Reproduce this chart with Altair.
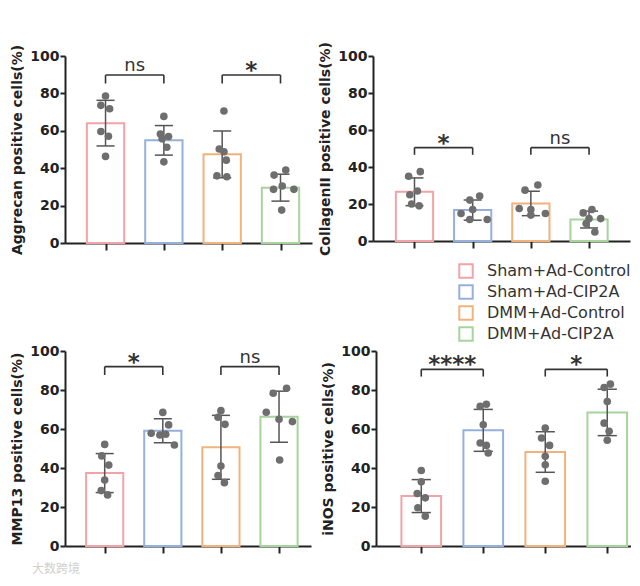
import altair as alt
import pandas as pd

# ---------------- data ----------------
groups = ["Sham+Ad-Control", "Sham+Ad-CIP2A", "DMM+Ad-Control", "DMM+Ad-CIP2A"]
colors = ["#F2A3A8", "#95B0DD", "#F2B27C", "#A6D49C"]
positions = [1, 2, 3, 4]

# Aggrecan
agg_mean = [64.1, 54.9, 47.4, 29.6]
agg_sd = [12.2, 7.9, 12.5, 7.2]
agg_dots = [[78.6, 73.6, 71.8, 59.6, 57.1, 46.3],
            [67.7, 58.3, 56.9, 55.7, 51.2, 43.4],
            [70.6, 50.3, 48.8, 44.3, 35.9, 35.4],
            [39.0, 36.3, 30.5, 28.7, 28.7, 17.6]]
agg_jit = [[0.0, -0.08, 0.07, -0.08, 0.05, 0.0],
           [0.0, -0.06, 0.08, -0.03, 0.05, 0.0],
           [0.03, -0.05, 0.03, 0.07, -0.09, 0.08],
           [0.09, -0.11, 0.03, 0.23, -0.12, 0.02]]
agg_sig = ["ns", "*"]
agg_bracket = [89.8, 85.3]

# CollagenII
col_mean = [26.6, 16.7, 20.3, 11.6]
col_sd = [7.5, 5.45, 6.6, 4.55]
col_dots = [[37.5, 35.0, 27.0, 25.0, 20.0, 19.0],
            [24.3, 22.1, 17.0, 14.9, 11.6, 11.6],
            [30.3, 27.5, 17.6, 17.0, 14.9, 14.0],
            [17.0, 15.2, 12.1, 12.1, 9.4, 4.9]]
col_jit = [[0.1, -0.1, 0.05, -0.08, -0.05, 0.08],
           [0.12, -0.05, 0.0, -0.2, 0.25, -0.05],
           [0.12, -0.1, -0.2, 0.0, 0.25, 0.0],
           [0.05, -0.1, 0.2, 0.0, -0.05, 0.1]]
col_sig = ["*", "ns"]
col_bracket = [50.5, 46.6]

# MMP13
mmp_mean = [37.4, 59.1, 50.6, 66.3]
mmp_sd = [10.0, 6.15, 16.4, 13.1]
mmp_dots = [[52.1, 46.2, 41.5, 33.8, 28.4, 26.2],
            [68.5, 62.1, 57.8, 57.3, 56.9, 51.8],
            [69.4, 66.0, 62.4, 41.0, 36.1, 32.5],
            [80.9, 78.3, 68.6, 65.0, 63.8, 44.1]]
mmp_jit = [[0.0, -0.05, 0.07, 0.0, -0.06, 0.05],
           [0.0, 0.1, -0.2, 0.05, -0.05, 0.2],
           [0.0, -0.05, 0.07, 0.0, -0.05, 0.06],
           [0.13, -0.1, -0.22, 0.0, 0.23, 0.01]]
mmp_sig = ["*", "ns"]
mmp_bracket = [92.0, 87.7]

# iNOS
inos_mean = [25.6, 59.3, 48.2, 68.5]
inos_sd = [8.45, 10.75, 10.4, 11.9]
inos_dots = [[38.7, 32.9, 26.9, 24.7, 19.6, 15.3],
             [72.7, 71.6, 62.2, 52.8, 51.6, 47.7],
             [60.5, 55.4, 51.6, 46.0, 41.7, 33.2],
             [83.0, 81.3, 74.1, 63.0, 58.8, 54.2]]
inos_jit = [[0.0, 0.0, -0.065, 0.065, -0.055, 0.065],
            [0.05, -0.05, 0.0, -0.05, 0.05, 0.08],
            [0.0, -0.06, 0.07, 0.0, 0.0, 0.0],
            [0.05, -0.05, 0.0, -0.05, 0.03, 0.0]]
inos_sig = ["****", "*"]
inos_bracket = [90.6, 86.9]

FONT = "DejaVu Sans"
INK = "#222222"


def make_panel(title, means, sds, dots, jit, sig, bracket, dom, w, h, watermark=False):
    xs = alt.Scale(domain=dom, nice=False, zero=False)
    ys = alt.Scale(domain=[0, 100], nice=False)
    xaxis = alt.Axis(values=positions, labels=False, tickSize=7, tickWidth=2,
                     tickColor=INK, domainWidth=2, domainColor=INK, grid=False, title=None)
    yaxis = alt.Axis(values=[0, 20, 40, 60, 80, 100], labelFont=FONT, labelFontWeight="bold",
                     labelFontSize=14, labelColor=INK, tickSize=5, tickWidth=2, tickColor=INK,
                     domainWidth=2, domainColor=INK, grid=False, title=title,
                     titleFont=FONT, titleFontSize=14, titleFontWeight="bold", titleColor=INK,
                     labelPadding=1, titlePadding=5)

    def X(f):
        return alt.X(f, scale=xs, axis=xaxis, title=None)

    def Y(f):
        return alt.Y(f, scale=ys, axis=yaxis, title=title)

    bdf = pd.DataFrame({"group": groups, "pos": positions, "mean": means, "sd": sds})
    rows = []
    for g, p, vals, js in zip(groups, positions, dots, jit):
        for v, j in zip(vals, js):
            rows.append({"group": g, "px": p + j, "val": v})
    ddf = pd.DataFrame(rows)

    legend = alt.Legend(title=None, orient="none", legendX=393, legendY=207,
                        symbolType="square", symbolSize=180, symbolStrokeWidth=2,
                        symbolFillColor="white", labelFont=FONT, labelFontSize=16,
                        labelColor="#333333", rowPadding=-1, labelOffset=13)
    stroke = alt.Stroke("group:N", scale=alt.Scale(domain=groups, range=colors),
                        legend=legend, sort=groups)

    bars = alt.Chart(bdf).transform_calculate(
        bl="datum.pos - 0.32", br="datum.pos + 0.32"
    ).mark_bar(fill="white", strokeWidth=2).encode(
        x=X("bl:Q"), x2="br:Q", y=Y("mean:Q"), y2=alt.datum(0), stroke=stroke)

    ebase = alt.Chart(bdf).transform_calculate(
        lo="datum.mean - datum.sd", hi="datum.mean + datum.sd",
        cl="datum.pos - 0.155", cr="datum.pos + 0.155")
    err = ebase.mark_rule(color="#555555", strokeWidth=1.5).encode(
        x=X("pos:Q"), y=Y("lo:Q"), y2="hi:Q")
    cap_hi = ebase.mark_rule(color="#555555", strokeWidth=1.5).encode(
        x=X("cl:Q"), x2="cr:Q", y=Y("hi:Q"))
    cap_lo = ebase.mark_rule(color="#555555", strokeWidth=1.5).encode(
        x=X("cl:Q"), x2="cr:Q", y=Y("lo:Q"))

    pts = alt.Chart(ddf).mark_circle(color="#6E6E6E", size=58, opacity=1).encode(
        x=X("px:Q"), y=Y("val:Q"))

    sdf = pd.DataFrame({"x1": [1, 3], "x2": [2, 4], "xm": [1.5, 3.5],
                        "y": [bracket[0]] * 2, "yl": [bracket[1]] * 2, "label": sig})
    br_h = alt.Chart(sdf).mark_rule(color="#333333", strokeWidth=1.6).encode(
        x=X("x1:Q"), x2="x2:Q", y=Y("y:Q"))
    br_l = alt.Chart(sdf).mark_rule(color="#333333", strokeWidth=1.6).encode(
        x=X("x1:Q"), y=Y("yl:Q"), y2="y:Q")
    br_r = alt.Chart(sdf).mark_rule(color="#333333", strokeWidth=1.6).encode(
        x=X("x2:Q"), y=Y("yl:Q"), y2="y:Q")

    ns_txt = alt.Chart(sdf).transform_filter("datum.label == 'ns'").mark_text(
        font=FONT, fontSize=18, color="#333333", baseline="alphabetic", dy=-4).encode(
        x=X("xm:Q"), y=Y("y:Q"), text="label:N")
    st_txt = alt.Chart(sdf).transform_filter("datum.label != 'ns'").mark_text(
        font=FONT, fontSize=23, fontWeight="bold", color="#333333", baseline="alphabetic", dy=3).encode(
        x=X("xm:Q"), y=Y("y:Q"), text="label:N")

    layers = [bars, err, cap_hi, cap_lo, pts, br_h, br_l, br_r, ns_txt, st_txt]
    if watermark:
        wm = alt.Chart(pd.DataFrame({"t": ["大数跨境"]})).mark_text(
            font="Noto Sans CJK SC", fontSize=12, color="#CFCFCF", align="left",
            baseline="middle").encode(x=alt.value(-33), y=alt.value(h + 23), text="t:N")
        layers.append(wm)
    return alt.layer(*layers).properties(width=w, height=h)


p1 = make_panel("Aggrecan positive cells(%)", agg_mean, agg_sd, agg_dots, agg_jit,
                agg_sig, agg_bracket, [0.305, 4.54], 247, 187)
p2 = make_panel("CollagenII positive cells(%)", col_mean, col_sd, col_dots, col_jit,
                col_sig, col_bracket, [0.287, 4.704], 257, 185)
p3 = make_panel("MMP13 positive cells(%)", mmp_mean, mmp_sd, mmp_dots, mmp_jit,
                mmp_sig, mmp_bracket, [0.317, 4.55], 246, 195, watermark=True)
p4 = make_panel("iNOS positive cells(%)", inos_mean, inos_sd, inos_dots, inos_jit,
                inos_sig, inos_bracket, [0.27, 4.383], 255, 195)

top = alt.hconcat(p1, p2, spacing=6)
bottom = alt.hconcat(p3, p4, spacing=10)
chart = alt.vconcat(top, bottom, spacing=88).properties(
    padding={"left": 2, "top": 33, "right": 0, "bottom": 0}
).configure_view(stroke=None)

chart.save("out.html", embed_options={"renderer": "svg", "actions": False})
